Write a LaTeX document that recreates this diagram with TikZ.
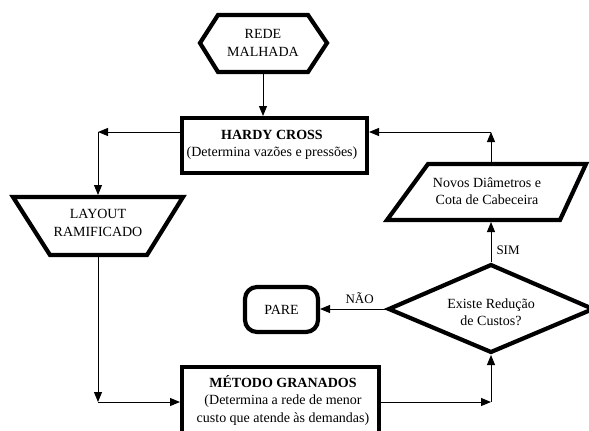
\documentclass[tikz,border=0pt]{standalone}
\usepackage{fontspec}
\setmainfont{Liberation Serif}
\usetikzlibrary{arrows.meta}
\begin{document}
\begin{tikzpicture}[x=1pt,y=-1pt,
  shapeline/.style={line width=4.2pt, line join=miter},
  conn/.style={line width=1pt, -{Triangle[length=10pt,width=8pt]}},
  txt/.style={align=center, font=\fontsize{14}{17.5}\selectfont, inner sep=0pt},
  lbl/.style={font=\fontsize{13}{15}\selectfont, inner sep=0pt}]
\useasboundingbox (0,0) rectangle (589,431);
% start hexagon
\draw[shapeline] (200,43) -- (218,15) -- (308,15) -- (327,43) -- (308,72) -- (218,72) -- cycle;
\node[txt] (rede) at (263,43) {REDE\\MALHADA};
\coordinate (redeS) at (263,74);
% Hardy Cross
\draw[shapeline] (182,118) rectangle (367,173);
\node[txt] (hardy) at (272,145) {\textbf{HARDY CROSS}\\(Determina vazões e pressões)};
\coordinate (hardyN) at (263,116);
\coordinate (hardyW) at (180,132);
\coordinate (hardyE) at (369,132);
\coordinate (cL) at (98,132);
% layout
\draw[shapeline] (13,197) -- (183,197) -- (147,255) -- (50,255) -- cycle;
\node[txt] (layout) at (98,223) {LAYOUT\\RAMIFICADO};
\coordinate (layN) at (98,195);
\coordinate (layS) at (98,257);
\coordinate (cBL) at (98,402);
% Metodo Granados
\draw[shapeline] (182,367) rectangle (379,448);
\node[txt] (gran) at (283,400) {\textbf{MÉTODO GRANADOS}\\(Determina a rede de menor\\custo que atende às demandas)};
\coordinate (granW) at (180,402);
\coordinate (granE) at (381,402);
\coordinate (cBR) at (491,402);
% decision
\draw[shapeline] (389,309) -- (491,265) -- (593,309) -- (491,352) -- cycle;
\node[txt] (dec) at (491,312) {Existe Redução\\de Custos?};
\coordinate (decS) at (491,355);
\coordinate (decW) at (386,309);
\coordinate (decN) at (491,262);
% stop
\draw[shapeline, rounded corners=12pt] (245,287) rectangle (318,332);
\node[txt] (pare) at (281.5,310) {PARE};
\coordinate (pareE) at (320,309);
% new diameters
\draw[shapeline] (387,220) -- (560,220) -- (586,164) -- (428,164) -- cycle;
\node[txt] (novos) at (487,191) {Novos Diâmetros e\\Cota de Cabeceira};
\coordinate (novS) at (491,222);
\coordinate (novN) at (491,162);
\coordinate (cTR) at (491,132);
% connectors
\draw[conn] (redeS) -- (hardyN);
\draw[conn] (hardyW) -- (cL);
\draw[conn] (cL) -- (layN);
\draw[conn] (layS) -- (cBL);
\draw[conn] (cBL) -- (granW);
\draw[conn] (granE) -- (cBR);
\draw[conn] (cBR) -- (decS);
\draw[conn] (decW) -- node[lbl, above=5pt, pos=0.4] {NÃO} (pareE);
\draw[conn] (decN) -- node[lbl, right=5pt, pos=0.3] {SIM} (novS);
\draw[conn] (novN) -- (cTR);
\draw[conn] (cTR) -- (hardyE);
\end{tikzpicture}
\end{document}
